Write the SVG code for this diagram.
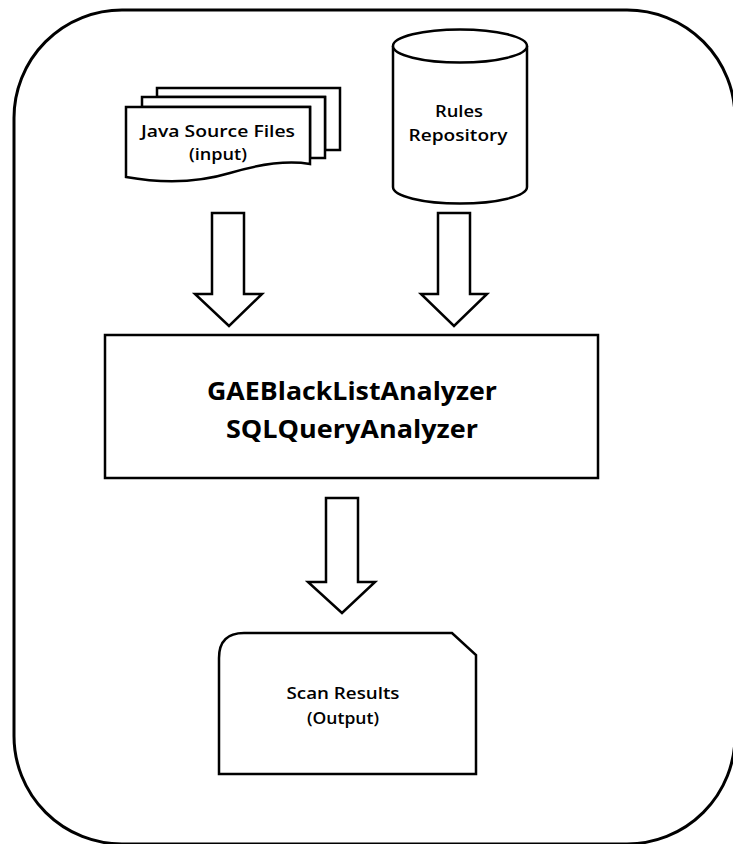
<svg xmlns="http://www.w3.org/2000/svg" width="733" height="844" viewBox="0 0 733 844">
<style>
.s{fill:#fff;stroke:#000;stroke-width:2.5;stroke-linejoin:miter}
.t{font-family:"Open Sans","Liberation Sans",sans-serif;font-size:16px;font-weight:600;fill:#000;text-anchor:middle}
.b{font-family:"Open Sans","Liberation Sans",sans-serif;font-size:25px;font-weight:bold;fill:#000;text-anchor:middle}
</style>
<rect width="733" height="844" fill="#fff"/>
<g id="frame"><rect x="14" y="10" width="721" height="834" rx="108" ry="108" fill="none" stroke="#000" stroke-width="3"/></g>
<g id="java-source-files">
<path class="s" d="M157,88 H340 V150 H325 V97 H157 Z"/>
<path class="s" d="M142,97 H325 V158 H310 V107 H142 Z"/>
<path class="s" d="M126,107 H310 V164 C285,160 260,164 230,173 C200,182 165,184 126,177 Z"/>
<text class="t" x="218" y="137" textLength="154" lengthAdjust="spacingAndGlyphs">Java Source Files</text>
<text class="t" x="218" y="160" textLength="58" lengthAdjust="spacingAndGlyphs">(input)</text>
</g>
<g id="rules-repository">
<path class="s" d="M393,46 V187 A67,16.5 0 0 0 527,187 V46"/>
<ellipse class="s" cx="460" cy="46" rx="67" ry="16.5"/>
<text class="t" x="459" y="117" textLength="48" lengthAdjust="spacingAndGlyphs">Rules</text>
<text class="t" x="458" y="141" textLength="99" lengthAdjust="spacingAndGlyphs">Repository</text>
</g>
<g id="analyzers">
<rect class="s" x="105" y="335" width="493" height="143"/>
<text class="b" x="352" y="400" textLength="290" lengthAdjust="spacingAndGlyphs">GAEBlackListAnalyzer</text>
<text class="b" x="352" y="438" textLength="252" lengthAdjust="spacingAndGlyphs">SQLQueryAnalyzer</text>
</g>
<g id="scan-results">
<path class="s" d="M219,774 V658 Q219,633 244,633 H452 L476,655 V774 Z"/>
<text class="t" x="343" y="699" textLength="113" lengthAdjust="spacingAndGlyphs">Scan Results</text>
<text class="t" x="343" y="724" textLength="72" lengthAdjust="spacingAndGlyphs">(Output)</text>
</g>
<g id="connectors">
<path class="s" d="M212,213 H244 V294 H262 L229,326 L195,294 H212 Z"/>
<path class="s" d="M438,213 H470 V294 H487 L454,326 L421,294 H438 Z"/>
<path class="s" d="M326,498 H358 V582 H375 L342,613 L308,582 H326 Z"/>
</g>
</svg>
